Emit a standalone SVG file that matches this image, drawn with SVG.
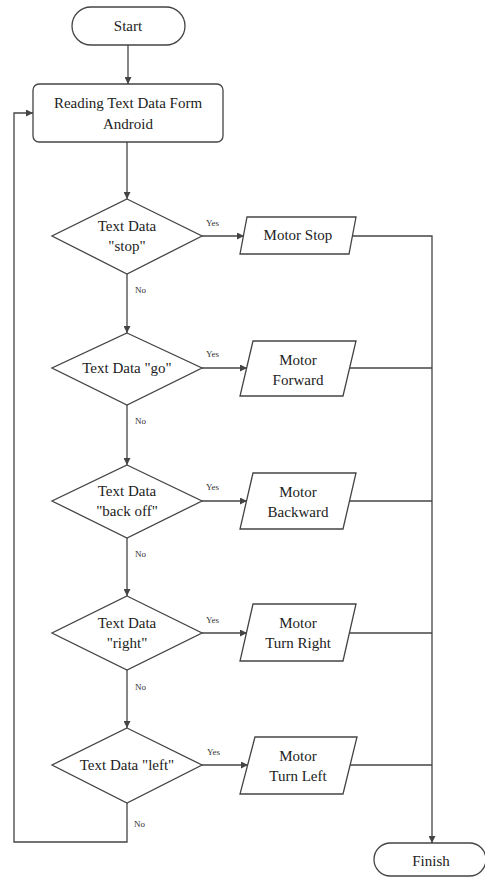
<svg xmlns="http://www.w3.org/2000/svg" width="485" height="877" viewBox="0 0 485 877">
<style>
.s{fill:#fff;stroke:#444;stroke-width:1.3}
.c{fill:none;stroke:#444;stroke-width:1.3}
.t{font-family:'Liberation Serif','DejaVu Serif',serif;font-size:15px;fill:#222;text-anchor:middle}
.l{font-family:'Liberation Serif','DejaVu Serif',serif;font-size:9px;fill:#333}
</style>
<defs>
<marker id="a" viewBox="0 0 10 10" refX="10" refY="5" markerWidth="7" markerHeight="7" markerUnits="userSpaceOnUse" orient="auto">
<path d="M0,0 L10,5 L0,10 z" fill="#444"/>
</marker>
</defs>
<rect width="485" height="877" fill="#fff"/>
<g id="connectors">
<path class="c" d="M128,45 V84" marker-end="url(#a)"/>
<path class="c" d="M127,142 V199" marker-end="url(#a)"/>
<path class="c" d="M127,274 V333" marker-end="url(#a)"/>
<path class="c" d="M127,405 V465" marker-end="url(#a)"/>
<path class="c" d="M127,538 V596" marker-end="url(#a)"/>
<path class="c" d="M127,670 V728" marker-end="url(#a)"/>
<path class="c" d="M202,236 H244" marker-end="url(#a)"/>
<path class="c" d="M202,368 H247" marker-end="url(#a)"/>
<path class="c" d="M202,501 H247" marker-end="url(#a)"/>
<path class="c" d="M202,633 H247" marker-end="url(#a)"/>
<path class="c" d="M202,765 H248" marker-end="url(#a)"/>
<path class="c" d="M352,236 H432 V843" marker-end="url(#a)"/>
<path class="c" d="M350,368 H432"/>
<path class="c" d="M350,501 H432"/>
<path class="c" d="M350,633 H432"/>
<path class="c" d="M350,765 H432"/>
<path class="c" d="M127,803 V842 H14 V113 H33" marker-end="url(#a)"/>
<text class="l" x="206" y="226">Yes</text>
<text class="l" x="206" y="357">Yes</text>
<text class="l" x="206" y="490">Yes</text>
<text class="l" x="206" y="623">Yes</text>
<text class="l" x="207" y="755">Yes</text>
<text class="l" x="135" y="293">No</text>
<text class="l" x="135" y="424">No</text>
<text class="l" x="135" y="557">No</text>
<text class="l" x="135" y="690">No</text>
<text class="l" x="134" y="827">No</text>
</g>
<g id="start">
<rect class="s" x="72" y="7" width="113" height="38" rx="19"/>
<text class="t" x="128" y="31">Start</text>
</g>
<g id="read">
<rect class="s" x="33" y="84" width="190" height="58" rx="6"/>
<text class="t" x="128" y="108">Reading Text Data Form</text>
<text class="t" x="128" y="129">Android</text>
</g>
<g id="d1">
<polygon class="s" points="127,199 202,236 127,274 52,236"/>
<text class="t" x="127" y="231">Text Data</text>
<text class="t" x="127" y="251">"stop"</text>
</g>
<g id="p1">
<polygon class="s" points="247,217 356,217 349,254 240,254"/>
<text class="t" x="298" y="240">Motor Stop</text>
</g>
<g id="d2">
<polygon class="s" points="127,333 202,368 127,405 52,368"/>
<text class="t" x="127" y="373">Text Data "go"</text>
</g>
<g id="p2">
<polygon class="s" points="253,341 356,341 343,396 240,396"/>
<text class="t" x="298" y="365">Motor</text>
<text class="t" x="298" y="385">Forward</text>
</g>
<g id="d3">
<polygon class="s" points="127,465 202,501 127,538 52,501"/>
<text class="t" x="127" y="496">Text Data</text>
<text class="t" x="127" y="516">"back off"</text>
</g>
<g id="p3">
<polygon class="s" points="253,473 356,473 343,529 240,529"/>
<text class="t" x="298" y="497">Motor</text>
<text class="t" x="298" y="517">Backward</text>
</g>
<g id="d4">
<polygon class="s" points="127,596 202,633 127,670 52,633"/>
<text class="t" x="127" y="628">Text Data</text>
<text class="t" x="127" y="648">"right"</text>
</g>
<g id="p4">
<polygon class="s" points="253,604 356,604 343,661 240,661"/>
<text class="t" x="298" y="628">Motor</text>
<text class="t" x="298" y="648">Turn Right</text>
</g>
<g id="d5">
<polygon class="s" points="127,728 202,765 127,803 52,765"/>
<text class="t" x="127" y="770">Text Data "left"</text>
</g>
<g id="p5">
<polygon class="s" points="255,737 357,737 343,794 240,794"/>
<text class="t" x="298" y="761">Motor</text>
<text class="t" x="298" y="781">Turn Left</text>
</g>
<g id="finish">
<rect class="s" x="374" y="843" width="112" height="33" rx="16.5"/>
<text class="t" x="431" y="866">Finish</text>
</g>
</svg>
